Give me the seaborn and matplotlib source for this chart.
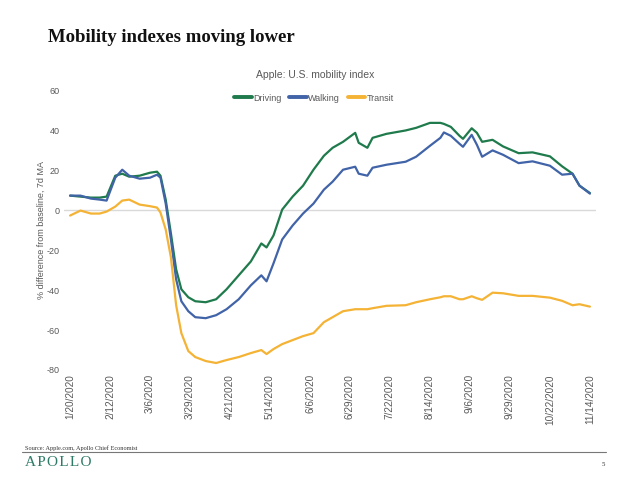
import numpy as np
import pandas as pd
import matplotlib
matplotlib.use("Agg")
import matplotlib.pyplot as plt
from matplotlib.lines import Line2D
import seaborn as sns

# ---- data ----
dates = ["2020-01-20", "2020-01-26", "2020-02-01", "2020-02-06", "2020-02-10", "2020-02-15",
         "2020-02-19", "2020-02-23", "2020-02-29", "2020-03-06", "2020-03-10", "2020-03-12",
         "2020-03-15", "2020-03-18", "2020-03-21", "2020-03-24", "2020-03-28", "2020-04-01",
         "2020-04-07", "2020-04-13", "2020-04-19", "2020-04-26", "2020-05-03", "2020-05-09",
         "2020-05-12", "2020-05-16", "2020-05-21", "2020-05-27", "2020-06-02", "2020-06-08",
         "2020-06-14", "2020-06-19", "2020-06-25", "2020-07-02", "2020-07-04", "2020-07-09",
         "2020-07-12", "2020-07-20", "2020-07-31", "2020-08-06", "2020-08-14", "2020-08-20",
         "2020-08-22", "2020-08-26", "2020-08-31", "2020-09-02", "2020-09-07", "2020-09-10",
         "2020-09-13", "2020-09-19", "2020-09-25", "2020-10-04", "2020-10-12", "2020-10-22",
         "2020-10-29", "2020-11-04", "2020-11-08", "2020-11-14"]

driving = [7, 6.5, 6, 6, 6.5, 17,
           18, 16.5, 17, 18.5, 19, 17,
           5, -12, -30, -40, -44, -46,
           -46.5, -45, -40, -33, -26, -17,
           -19, -13, 0, 6.5, 12, 20,
           27, 31, 34, 38.5, 33.5, 31,
           36, 38, 39.7, 41, 43.5, 43.5,
           43, 41.5, 37, 35.5, 40.8, 38.5,
           34, 35, 31.7, 28.3, 28.7, 26.7,
           21.7, 18, 12, 8.3]

walking = [7, 7, 5.5, 5, 4.5, 16,
           20, 17, 15.5, 16, 17.5, 16,
           3, -15, -35, -46, -51, -54,
           -54.5, -53, -50, -45, -38, -33,
           -36, -27, -15, -8, -2, 3,
           10, 14, 20, 21.5, 18, 17,
           21, 22.5, 24, 26.5, 32, 36,
           38.7, 37, 33, 31.5, 37.5, 32.5,
           26.5, 29.7, 27.5, 23.3, 24.2, 22,
           17.5, 18, 12, 8]

transit = [-3, -0.5, -2, -2, -1, 1.5,
           4.5, 5, 2.5, 1.7, 1, -1.5,
           -10, -24, -48, -62, -71, -74,
           -76, -77, -75.5, -74, -72, -70.5,
           -72.5, -70, -67.5, -65.5, -63.5, -62,
           -56.5, -54, -51, -50, -50, -50,
           -49.5, -48.3, -48, -46.5, -45, -44,
           -43.5, -43.5, -45, -45, -43.5, -44.5,
           -45.3, -41.7, -42, -43.3, -43.3, -44.2,
           -45.8, -48, -47.5, -48.7]

series_names = ["Driving", "Walking", "Transit"]
tick_labels = ["1/20/2020", "2/12/2020", "3/6/2020", "3/29/2020", "4/21/2020", "5/14/2020",
               "6/6/2020", "6/29/2020", "7/22/2020", "8/14/2020", "9/6/2020", "9/29/2020",
               "10/22/2020", "11/14/2020"]
y_ticks = [-80, -60, -40, -20, 0, 20, 40, 60]

colors = {"Driving": "#1F7A4C", "Walking": "#4163A8", "Transit": "#F4B335"}

# ---- build table ----
d = pd.to_datetime(dates)
df = pd.concat([
    pd.DataFrame({"date": d, "value": driving, "series": "Driving"}),
    pd.DataFrame({"date": d, "value": walking, "series": "Walking"}),
    pd.DataFrame({"date": d, "value": transit, "series": "Transit"}),
], ignore_index=True)

sns.set_theme(style="white")
plt.rcParams["font.family"] = ["Liberation Sans", "DejaVu Sans"]

fig = plt.figure(figsize=(6.3, 4.85), dpi=100)
ax = fig.add_axes([64 / 630, 1 - 370 / 485, 532 / 630, 279 / 485])

ax.axhline(0, color="#D9D9D9", lw=1.0, zorder=1)
sns.lineplot(data=df, x="date", y="value", hue="series", hue_order=series_names,
             palette=colors, linewidth=1.6, ax=ax, legend=False, zorder=3)

tick_dates = pd.to_datetime(tick_labels, format="%m/%d/%Y")
ax.set_xticks(tick_dates)
ax.set_xticklabels(tick_labels, rotation=90, fontsize=7.2, color="#595959")
ax.set_xlim(tick_dates[0] - pd.Timedelta(days=3.5), tick_dates[-1] + pd.Timedelta(days=3.5))
ax.set_ylim(-80, 60)
ax.set_yticks(y_ticks)
ax.set_yticklabels([str(v) for v in y_ticks], fontsize=6.5, color="#595959")
ax.tick_params(axis="both", length=0, pad=3)
for s in ax.spines.values():
    s.set_visible(False)
ax.set_xlabel("")
ax.set_ylabel("% difference from baseline, 7d MA", fontsize=6.5, color="#595959", labelpad=1)

# legend
handles = [Line2D([0], [0], color=colors[n], lw=2.8) for n in series_names]
fig.legend(handles, series_names, loc="center", bbox_to_anchor=(314 / 630, 1 - 99 / 485),
           ncol=3, frameon=False, fontsize=6.5, handlelength=1.9, handletextpad=0.15,
           columnspacing=0.9, labelcolor="#595959")

fig.text(315 / 630, 1 - 75 / 485, "Apple: U.S. mobility index", ha="center", va="center",
         fontsize=7.5, color="#595959")
fig.text(48 / 630, 1 - 37 / 485, "Mobility indexes moving lower", ha="left", va="center",
         fontsize=13.5, fontweight="bold", color="#111111",
         family=["Liberation Serif", "DejaVu Serif"])

# footer
fig.text(25 / 630, 1 - 448 / 485, "Source: Apple.com, Apollo Chief Economist", ha="left",
         va="center", fontsize=4.5, color="#333333", family=["Liberation Serif", "DejaVu Serif"])
fig.add_artist(Line2D([22 / 630, 606 / 630], [1 - 453 / 485] * 2, color="#777777", lw=0.8))
fig.text(25 / 630, 1 - 463 / 485, "A\u200aP\u200aO\u200aL\u200aL\u200aO", ha="left",
         va="center", fontsize=11, color="#2E7A66",
         family=["Liberation Serif", "DejaVu Serif"])
fig.text(603 / 630, 1 - 465 / 485, "5", ha="center", va="center", fontsize=5,
         color="#333333", family=["Liberation Serif", "DejaVu Serif"])

fig.savefig("out.png", dpi=100)
